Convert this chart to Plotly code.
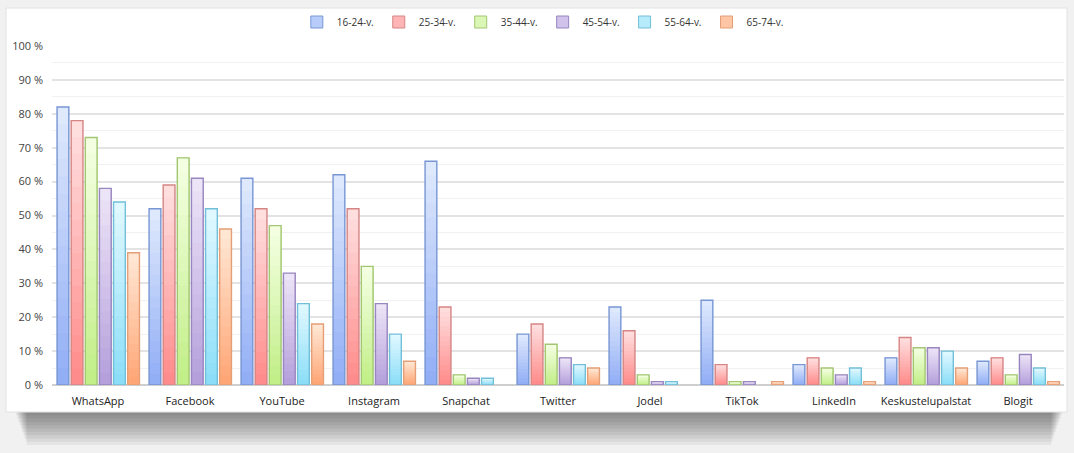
import plotly.graph_objects as go

categories = ["WhatsApp", "Facebook", "YouTube", "Instagram", "Snapchat", "Twitter",
              "Jodel", "TikTok", "LinkedIn", "Keskustelupalstat", "Blogit"]
series_names = ["16-24-v.", "25-34-v.", "35-44-v.", "45-54-v.", "55-64-v.", "65-74-v."]
v16_24 = [82, 52, 61, 62, 66, 15, 23, 25, 6, 8, 7]
v25_34 = [78, 59, 52, 52, 23, 18, 16, 6, 8, 14, 8]
v35_44 = [73, 67, 47, 35, 3, 12, 3, 1, 5, 11, 3]
v45_54 = [58, 61, 33, 24, 2, 8, 1, 1, 3, 11, 9]
v55_64 = [54, 52, 24, 15, 2, 6, 1, 0, 5, 10, 5]
v65_74 = [39, 46, 18, 7, 0, 5, 0, 1, 1, 5, 1]
series_values = [v16_24, v25_34, v35_44, v45_54, v55_64, v65_74]
y_ticks = list(range(0, 101, 10))
y_tick_labels = [f"{t} %" for t in y_ticks]

# style: (top colour, bottom colour, border colour)
styles = [
    ((222, 233, 253), (146, 174, 245), "#7896d4"),
    ((255, 222, 222), (255, 140, 140), "#d68585"),
    ((244, 255, 226), (194, 239, 136), "#a2c674"),
    ((236, 228, 247), (181, 160, 220), "#9886bf"),
    ((224, 248, 255), (140, 222, 248), "#72bfd8"),
    ((255, 231, 212), (255, 166, 118), "#e49f76"),
]

N = 16
bar_w = 0.128
step = 0.1535
start = -0.445

fig = go.Figure()
for i, (name, vals) in enumerate(zip(series_names, series_values)):
    top, bot, border = styles[i]
    off = start + i * step
    shown = [v if v > 0 else None for v in vals]
    for k in range(N):
        t = k / (N - 1)
        c = tuple(round(bot[j] + (top[j] - bot[j]) * t) for j in range(3))
        fig.add_trace(go.Bar(
            x=categories,
            y=[None if v is None else v * (1 - k / N) for v in shown],
            base=[0 if v is None else v * k / N for v in shown],
            offset=off, width=bar_w,
            marker=dict(color=f"rgb{c}", line=dict(width=0)),
            showlegend=False, hoverinfo="skip"))
    fig.add_trace(go.Bar(
        x=categories, y=shown, offset=off, width=bar_w,
        marker=dict(color="rgba(0,0,0,0)", line=dict(color=border, width=1.4)),
        showlegend=False, name=name))
    mid = tuple(round((top[j] + bot[j]) / 2) for j in range(3))
    fig.add_trace(go.Bar(
        x=[categories[0]], y=[None], name=name,
        marker=dict(color=f"rgb{mid}", line=dict(color=border, width=1)),
        showlegend=True))

L, R, T, B = 52, 10, 46, 68
W, H = 1074, 453
pw, ph = W - L - R, H - T - B

def px(x):
    return (x - L) / pw

def py(y):
    return (H - B - y) / ph

shapes = []
# drop shadow below card
for s in range(10):
    shapes.append(dict(type="rect", xref="paper", yref="paper", layer="below",
                       x0=px(16 + s * 1.2), x1=px(1062 - s * 1.2),
                       y0=py(412 + 3.3 * (s + 1)), y1=py(405),
                       fillcolor="rgba(0,0,0,0.05)", line=dict(width=0)))
# card
shapes.append(dict(type="rect", xref="paper", yref="paper", layer="below",
                   x0=px(6), x1=px(1067), y0=py(412), y1=py(8),
                   fillcolor="white", line=dict(color="#e2e2e2", width=1)))

fig.update_layout(
    width=W, height=H,
    margin=dict(l=L, r=R, t=T, b=B, autoexpand=False),
    paper_bgcolor="#f1f1f1",
    plot_bgcolor="rgba(0,0,0,0)",
    barmode="overlay",
    font=dict(family="Open Sans, Liberation Sans, sans-serif", size=11, color="#333333"),
    shapes=shapes,
    legend=dict(orientation="h", x=0.485, xanchor="center", y=1.0 + 24 / ph,
                yanchor="middle", font=dict(size=10, color="#333333"),
                bgcolor="rgba(0,0,0,0)", itemwidth=30, tracegroupgap=0),
    xaxis=dict(showgrid=False, showline=False, ticks="", tickfont=dict(size=11, color="#222222"),
               range=[-0.5, len(categories) - 0.5], fixedrange=True, automargin=False,
               ticklabelstandoff=8),
    yaxis=dict(range=[0, 100], tickvals=y_ticks, ticktext=y_tick_labels,
               gridcolor="#e3e3e3", gridwidth=2, zeroline=True, zerolinecolor="#cfcfcf",
               zerolinewidth=2, showline=False, ticks="", ticklabelstandoff=8,
               automargin=False,
               tickfont=dict(size=11, color="#444444"),
               minor=dict(dtick=5, showgrid=True, gridcolor="#f1f1f1", gridwidth=1)),
    showlegend=True,
)

fig.write_html("out.html")
